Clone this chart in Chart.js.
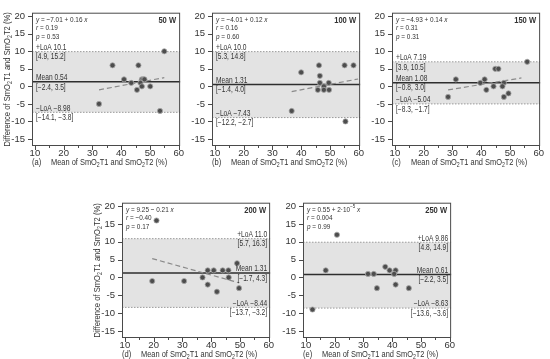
<!DOCTYPE html>
<html>
<head>
<meta charset="utf-8">
<script src="https://cdn.jsdelivr.net/npm/chart.js@4"></script>
<style>
  body { margin: 0; background: #fff; }
  #wrap { position: relative; width: 550px; height: 359px; overflow: hidden; }
  canvas { position: absolute; }
</style>
</head>
<body>
<div id="wrap">
  <canvas id="p0" width="186" height="170" style="left:0px;top:0px"></canvas>
  <canvas id="p1" width="186" height="170" style="left:180px;top:0px"></canvas>
  <canvas id="p2" width="186" height="170" style="left:360px;top:0px"></canvas>
  <canvas id="p3" width="186" height="169" style="left:90px;top:190px"></canvas>
  <canvas id="p4" width="186" height="169" style="left:271px;top:190px"></canvas>
</div>
<script>
// axis ticks
const xTicks = [10, 20, 30, 40, 50, 60];
const xMinorTicks = [15, 25, 35, 45, 55];
const yTicks = [-15, -10, -5, 0, 5, 10, 15, 20];

const panelLetters = ['(a)', '(b)', '(c)', '(d)', '(e)'];
const powerLabels = ['50 W', '100 W', '150 W', '200 W', '250 W'];

// points: mean of the two trials (x) and their difference (y)
const meanX50 = [55, 37, 46, 41, 47.2, 47.7, 48.1, 43.5, 46.7, 47.2, 50.1, 45.5, 32.3, 53.5];
const diff50 = [10, 6, 6, 2, 2, 2, 2, 1, 1, 0, 0, -1, -5, -7];
const meanX100 = [40, 46.2, 55.1, 58.2, 46.5, 46.5, 49.6, 47.9, 45.8, 47.9, 49.7, 36.7, 55.4];
const diff100 = [4, 6, 6, 6, 3, 1, 1, 0, -1, -1, -1, -7, -10];
const meanX150 = [56, 31.2, 41.2, 44.9, 46, 39.7, 47.9, 44.3, 47.4, 41.8, 49.5, 28.5, 47.9];
const diff150 = [7, 2, 2, 5, 5, 1, 1, 0, 0, -1, -2, -3, -3];
const meanX200 = [21, 19.5, 30.6, 37, 38.8, 40.9, 44, 46, 46.1, 38.8, 42, 49, 49.7];
const diff200 = [16, -1, -1, 0, 2, 2, 2, 2, 0, -2, -4, 4, -3];
const meanX250 = [20.8, 16.9, 12.3, 31.6, 33.6, 37.6, 39.1, 41.2, 40.7, 41.2, 34.7, 45.8];
const diff250 = [12, 2, -9, 1, 1, 3, 2, 2, 1, -2, -3, -3];

// regression (dashed) end points
const regX50 = [32.3, 55], regY50 = [-1, 2.5];
const regX100 = [36.7, 59.8], regY100 = [-1.5, 2.1];
const regX150 = [28.5, 54], regY150 = [-1, 2.4];
const regX200 = [19.5, 49.7], regY200 = [5.3, -1.5];
const regX250 = [], regY250 = [];

// bias and limits of agreement as drawn
const meanLine = [1.3, 0.5, 1.05, 1.24, 0.8];
const upperLoA = [9.9, 9.9, 7.0, 10.9, 9.9];
const lowerLoA = [-7.4, -8.9, -5.0, -8.4, -8.6];

// text
const fitText = ['*y* = −7.01 + 0.16 *x*', '*y* = −4.01 + 0.12 *x*', '*y* = −4.93 + 0.14 *x*',
                 '*y* = 9.25 − 0.21 *x*', '*y* = 0.55 + 2·10^{−5} *x*'];
const rText = ['0.19', '0.16', '0.31', '−0.40', '0.004'];
const pText = ['0.53', '0.60', '0.31', '0.17', '0.99'];
const upperText = ['+LoA 10.1', '+LoA 10.0', '+LoA 7.19', '+LoA 11.0', '+LoA 9.86'];
const upperCI = ['[4.9, 15.2]', '[5.3, 14.8]', '[3.9, 10.5]', '[5.7, 16.3]', '[4.8, 14.9]'];
const meanText = ['Mean 0.54', 'Mean 1.31', 'Mean 1.08', 'Mean 1.31', 'Mean 0.61'];
const meanCI = ['[−2.4, 3.5]', '[−1.4, 4.0]', '[−0.8, 3.0]', '[−1.7, 4.3]', '[−2.2, 3.5]'];
const lowerText = ['−LoA −8.98', '−LoA −7.43', '−LoA −5.04', '−LoA −8.44', '−LoA −8.63'];
const lowerCI = ['[−14.1, −3.8]', '[−12.2, −2.7]', '[−8.3, −1.7]', '[−13.7, −3.2]', '[−13.6, −3.6]'];
const xTitle = 'Mean of SmO_2T1 and SmO_2T2 (%)';
const yTitle = 'Difference of SmO_2T1 and SmO_2T2 (%)';

const FONT = "'Liberation Sans', Arial, sans-serif";
const TXT = '#333';
const SX = 0.8;   // the figure text is a little narrow

// split "*italic*", "_2" (sub) and "^{..}" (sup) markup
function parse(str) {
    return str.split(/(\*[^*]+\*|_\d|\^\{[^}]*\})/).filter(s => s).map(s => {
        if (s[0] === '*') return { t: s.slice(1, -1), st: 'i' };
        if (s[0] === '_') return { t: s.slice(1), st: 'sub' };
        if (s[0] === '^') return { t: s.slice(2, -1), st: 'sup' };
        return { t: s, st: '' };
    });
}

function drawRich(ctx, str, x, y, size, align, bold) {
    const parts = parse(str);
    const fontFor = p => {
        const sz = (p.st === 'sub' || p.st === 'sup') ? size * 0.7 : size;
        return (p.st === 'i' ? 'italic ' : '') + (bold ? 'bold ' : '') + sz + 'px ' + FONT;
    };
    let total = 0;
    parts.forEach(p => { ctx.font = fontFor(p); p.w = ctx.measureText(p.t).width * SX; total += p.w; });
    let cx = align === 'center' ? x - total / 2 : align === 'right' ? x - total : x;
    ctx.fillStyle = TXT;
    ctx.textBaseline = 'middle';
    ctx.textAlign = 'left';
    parts.forEach(p => {
        let dy = 0;
        if (p.st === 'sub') dy = size * 0.3;
        if (p.st === 'sup') dy = -size * 0.35;
        ctx.save();
        ctx.font = fontFor(p);
        ctx.translate(cx, y + dy);
        ctx.scale(SX, 1);
        ctx.fillText(p.t, 0, 0);
        ctx.restore();
        cx += p.w;
    });
}

function makePanel(i, xs, ys, rx, ry, showYTitle, rightLabels, xAxisH) {
    const pts = xs.map((v, k) => ({ x: v, y: ys[k] }));
    const reg = rx.map((v, k) => ({ x: v, y: ry[k] }));

    const bandPlugin = {
        id: 'band' + i,
        beforeDatasetsDraw(chart) {
            const { ctx, chartArea: a, scales } = chart;
            const yU = scales.y.getPixelForValue(upperLoA[i]);
            const yL = scales.y.getPixelForValue(lowerLoA[i]);
            const yM = scales.y.getPixelForValue(meanLine[i]);
            ctx.save();
            ctx.fillStyle = '#e3e3e3';
            ctx.fillRect(a.left, yU, a.right - a.left, yL - yU);
            ctx.strokeStyle = '#9a9a9a';
            ctx.lineWidth = 1;
            ctx.setLineDash([1.5, 1.5]);
            [yU, yL].forEach(yy => {
                ctx.beginPath(); ctx.moveTo(a.left, yy); ctx.lineTo(a.right, yy); ctx.stroke();
            });
            ctx.setLineDash([]);
            ctx.strokeStyle = '#2e2e2e';
            ctx.lineWidth = 1.5;
            ctx.beginPath(); ctx.moveTo(a.left, yM); ctx.lineTo(a.right, yM); ctx.stroke();
            ctx.restore();
        },
        afterDraw(chart) {
            const { ctx, chartArea: a, scales } = chart;
            ctx.save();
            // frame
            ctx.strokeStyle = '#4a4a4a';
            ctx.lineWidth = 1;
            ctx.strokeRect(a.left + 0.5, a.top + 0.5, a.right - a.left - 1, a.bottom - a.top - 1);
            // tick marks
            ctx.beginPath();
            yTicks.forEach(v => {
                const yy = Math.round(scales.y.getPixelForValue(v)) + 0.5;
                ctx.moveTo(a.left - 4, yy); ctx.lineTo(a.left, yy);
            });
            xTicks.forEach(v => {
                const xx = Math.round(scales.x.getPixelForValue(v)) + 0.5;
                ctx.moveTo(xx, a.bottom); ctx.lineTo(xx, a.bottom + 4);
            });
            xMinorTicks.forEach(v => {
                const xx = Math.round(scales.x.getPixelForValue(v)) + 0.5;
                ctx.moveTo(xx, a.bottom); ctx.lineTo(xx, a.bottom + 2);
            });
            ctx.stroke();

            // annotations
            const ax = a.left + 4;
            drawRich(ctx, fitText[i], ax, a.top + 7, 8);
            drawRich(ctx, '*r* = ' + rText[i], ax, a.top + 15.5, 8);
            drawRich(ctx, '*p* = ' + pText[i], ax, a.top + 24, 8);
            drawRich(ctx, powerLabels[i], a.right - 4, a.top + 8, 9.5, 'right', true);

            const lx = rightLabels ? a.right - 3 : a.left + 4;
            const al = rightLabels ? 'right' : 'left';
            const yU = scales.y.getPixelForValue(upperLoA[i]);
            const yL = scales.y.getPixelForValue(lowerLoA[i]);
            const yM = scales.y.getPixelForValue(meanLine[i]);
            drawRich(ctx, upperText[i], lx, yU - 4, 8.3, al);
            drawRich(ctx, upperCI[i], lx, yU + 5.5, 8.3, al);
            drawRich(ctx, meanText[i], lx, yM - 4, 8.3, al);
            drawRich(ctx, meanCI[i], lx, yM + 5.5, 8.3, al);
            drawRich(ctx, lowerText[i], lx, yL - 4, 8.3, al);
            drawRich(ctx, lowerCI[i], lx, yL + 5.5, 8.3, al);

            // axis titles
            drawRich(ctx, panelLetters[i], a.left, a.bottom + 16, 9.5, 'left');
            drawRich(ctx, xTitle, (a.left + a.right) / 2 + 3, a.bottom + 16, 9.3, 'center');
            if (showYTitle) {
                ctx.save();
                ctx.translate(7, (a.top + a.bottom) / 2);
                ctx.rotate(-Math.PI / 2);
                drawRich(ctx, yTitle, 0, 0, 9.5, 'center');
                ctx.restore();
            }
            ctx.restore();
        }
    };

    return new Chart(document.getElementById('p' + i), {
        type: 'scatter',
        data: {
            datasets: [{
                data: pts,
                pointRadius: 2.6,
                pointHoverRadius: 2.6,
                backgroundColor: '#4d4d4d',
                borderColor: '#a8a8a8',
                borderWidth: 0.8
            }, {
                data: reg,
                showLine: true,
                pointRadius: 0,
                borderColor: '#8a8a8a',
                borderWidth: 1.2,
                borderDash: [5, 3]
            }]
        },
        options: {
            responsive: false,
            animation: false,
            devicePixelRatio: 1,
            layout: { padding: { top: 3, right: 3, left: 0, bottom: 0 } },
            plugins: { legend: { display: false }, tooltip: { enabled: false } },
            scales: {
                x: {
                    type: 'linear', min: 9, max: 60.5,
                    afterBuildTicks: s => { s.ticks = xTicks.map(v => ({ value: v })); },
                    afterFit: s => { s.height = xAxisH; },
                    grid: { display: false, drawTicks: false },
                    border: { display: false },
                    ticks: { padding: 2, autoSkip: false, maxRotation: 0, color: TXT,
                             font: { size: 9.5, family: FONT } }
                },
                y: {
                    type: 'linear', min: -17, max: 21,
                    afterBuildTicks: s => { s.ticks = yTicks.map(v => ({ value: v })); },
                    afterFit: s => { s.width = 32; },
                    grid: { display: false, drawTicks: false },
                    border: { display: false },
                    ticks: { padding: 7, autoSkip: false, color: TXT,
                             font: { size: 9.5, family: FONT } }
                }
            }
        },
        plugins: [bandPlugin]
    });
}

makePanel(0, meanX50, diff50, regX50, regY50, true, false, 24);
makePanel(1, meanX100, diff100, regX100, regY100, false, false, 24);
makePanel(2, meanX150, diff150, regX150, regY150, false, false, 24);
makePanel(3, meanX200, diff200, regX200, regY200, true, true, 21);
makePanel(4, meanX250, diff250, regX250, regY250, false, true, 21);
</script>
</body>
</html>
